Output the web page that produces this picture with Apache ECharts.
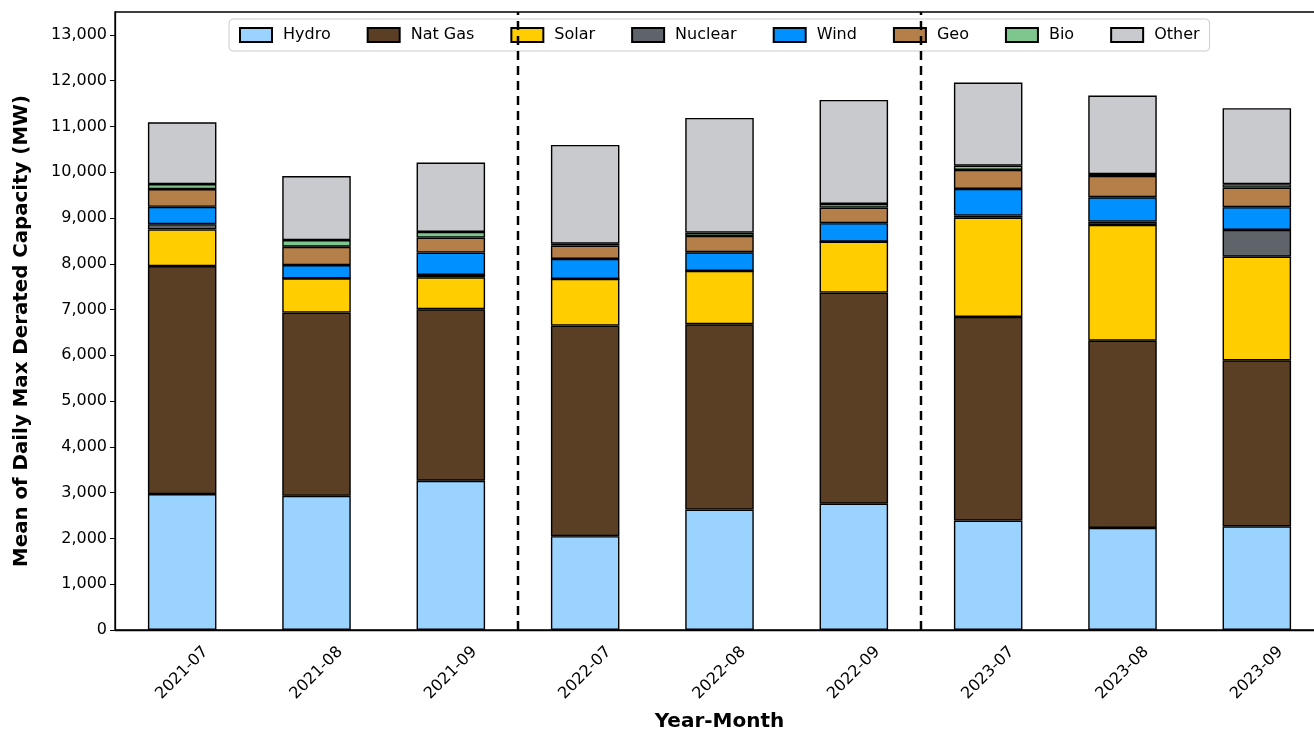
<!DOCTYPE html>
<html>
<head>
<meta charset="utf-8">
<script src="https://cdn.jsdelivr.net/npm/echarts@6/dist/echarts.min.js"></script>
<style>
  html, body { margin: 0; padding: 0; background: #fff; }
  #chart { width: 1314px; height: 731px; }
</style>
</head>
<body>
<div id="chart"></div>
<script>
// Monthly mean of daily max derated capacity (MW) by fuel type
const categories = ['2021-07', '2021-08', '2021-09', '2022-07', '2022-08', '2022-09', '2023-07', '2023-08', '2023-09'];
const hydro   = [2970, 2930, 3260, 2050, 2630, 2760, 2390, 2230, 2265];
const natGas  = [4980, 4005, 3747, 4599, 4049, 4610, 4448, 4091, 3627];
const solar   = [800, 747, 699, 1020, 1164, 1114, 2170, 2528, 2264];
const nuclear = [116, 0, 50, 0, 0, 0, 44, 73, 584];
const wind    = [378, 290, 488, 437, 409, 402, 583, 531, 496];
const geo     = [387, 400, 328, 291, 356, 341, 415, 466, 429];
const bio     = [109, 146, 124, 40, 73, 80, 94, 40, 73];
const other   = [1350, 1398, 1514, 2159, 2505, 2273, 1814, 1715, 1660];

// Year separators sit between category slots
const dividerPositions = [2.5, 5.5];

const FONT = 'DejaVu Sans';
const stackDefs = [
  { name: 'Hydro',   data: hydro,   color: '#9bd3ff' },
  { name: 'Nat Gas', data: natGas,  color: '#5b3f25' },
  { name: 'Solar',   data: solar,   color: '#ffcd00' },
  { name: 'Nuclear', data: nuclear, color: '#5f636a' },
  { name: 'Wind',    data: wind,    color: '#0090ff' },
  { name: 'Geo',     data: geo,     color: '#b57f49' },
  { name: 'Bio',     data: bio,     color: '#7dc68e' },
  { name: 'Other',   data: other,   color: '#c9cacd' }
];

const yMax = 13500;

const barSeries = stackDefs.map(d => ({
  name: d.name,
  type: 'bar',
  stack: 'total',
  barWidth: '51%',
  data: d.data,
  itemStyle: { color: d.color, borderColor: '#000', borderWidth: 1.4 },
  emphasis: { disabled: true },
  animation: false
}));

const dividerSeries = dividerPositions.map((p, i) => ({
  name: 'divider' + i,
  type: 'line',
  xAxisIndex: 1,
  yAxisIndex: 0,
  data: [[p, 0], [p, yMax]],
  symbol: 'none',
  lineStyle: { color: '#000', width: 2.5, type: [9, 6] },
  silent: true,
  animation: false,
  z: 5
}));

const chart = echarts.init(document.getElementById('chart'), null, { renderer: 'canvas' });
chart.setOption({
  backgroundColor: '#fff',
  textStyle: { fontFamily: FONT },
  grid: {
    left: 115, right: -10, top: 12, bottom: 101,
    outerBoundsMode: 'none',
    containLabel: false,
    show: true, borderColor: '#000', borderWidth: 1.3, backgroundColor: 'transparent'
  },
  legend: {
    data: stackDefs.map(d => d.name),
    left: 229, top: 19,
    icon: 'rect',
    itemWidth: 32, itemHeight: 14, itemGap: 36,
    padding: [8, 10],
    backgroundColor: 'rgba(255,255,255,0.85)',
    borderColor: '#cccccc', borderWidth: 1, borderRadius: 4,
    textStyle: { fontFamily: FONT, fontSize: 16, color: '#000', padding: [0, 0, 0, 6] }
  },
  xAxis: [
    {
      type: 'category',
      data: categories,
      name: 'Year-Month',
      nameLocation: 'middle',
      nameGap: 82,
      nameTextStyle: { fontFamily: FONT, fontSize: 20, fontWeight: 'bold', color: '#000' },
      axisLine: { onZero: false, lineStyle: { color: '#000', width: 1.3 } },
      axisTick: { alignWithLabel: true, length: 5, lineStyle: { color: '#000' } },
      axisLabel: {
        rotate: 45, align: 'center', verticalAlign: 'middle', margin: 43,
        fontFamily: FONT, fontSize: 16, color: '#000', interval: 0
      },
      splitLine: { show: false }
    },
    {
      type: 'value', min: -0.5, max: 8.5, show: false
    }
  ],
  yAxis: {
    type: 'value',
    min: 0, max: yMax, interval: 1000,
    name: 'Mean of Daily Max Derated Capacity (MW)',
    nameLocation: 'middle',
    nameGap: 83,
    nameTextStyle: {
      fontFamily: FONT, fontSize: 19.8, fontWeight: 'bold', color: '#000',
      padding: [0, 20, 0, 0]
    },
    axisLine: { show: true, onZero: false, lineStyle: { color: '#000', width: 1.3 } },
    axisTick: { show: true, length: 5, lineStyle: { color: '#000' } },
    axisLabel: {
      fontFamily: FONT, fontSize: 16, color: '#000', margin: 8,
      showMaxLabel: false,
      formatter: v => (v > 13000 ? '' : v.toLocaleString('en-US'))
    },
    splitLine: { show: false }
  },
  series: barSeries.concat(dividerSeries)
});
</script>
</body>
</html>
